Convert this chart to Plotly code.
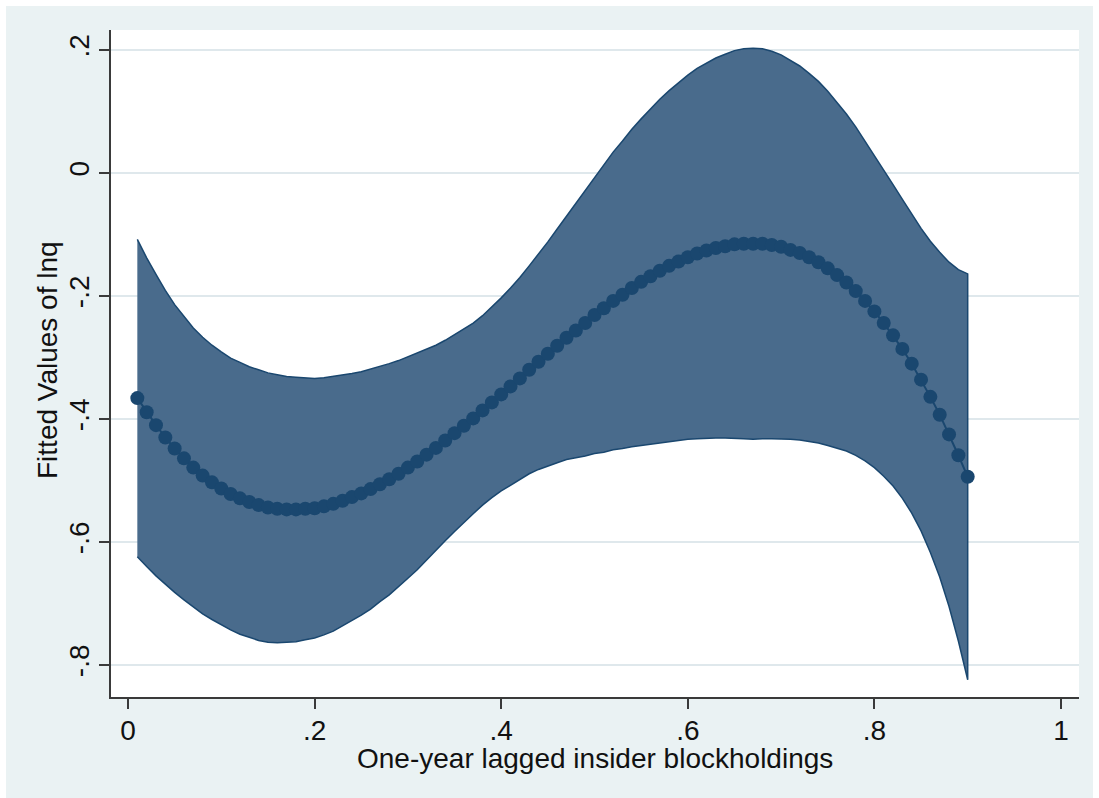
import plotly.graph_objects as go

# Lagged insider blockholdings grid (0.01 .. 0.90)
blockholdings = [round(0.01 * k, 2) for k in range(1, 91)]

# Fitted values of lnq at each grid point
fitted_lnq = [
    -0.366, -0.389, -0.410, -0.430, -0.448, -0.464, -0.479, -0.492, -0.503, -0.513,
    -0.522, -0.529, -0.535, -0.540, -0.544, -0.546, -0.547, -0.547, -0.546, -0.545,
    -0.542, -0.538, -0.533, -0.527, -0.521, -0.514, -0.506, -0.498, -0.489, -0.479,
    -0.469, -0.458, -0.447, -0.435, -0.423, -0.411, -0.399, -0.386, -0.373, -0.360,
    -0.347, -0.334, -0.320, -0.307, -0.294, -0.281, -0.268, -0.256, -0.244, -0.231,
    -0.220, -0.208, -0.198, -0.187, -0.177, -0.168, -0.159, -0.151, -0.144, -0.137,
    -0.131, -0.126, -0.122, -0.119, -0.116, -0.115, -0.115, -0.115, -0.117, -0.120,
    -0.125, -0.130, -0.137, -0.145, -0.155, -0.166, -0.178, -0.192, -0.208, -0.225,
    -0.244, -0.264, -0.286, -0.310, -0.336, -0.364, -0.393, -0.425, -0.459, -0.494,
]

# Half-width of the 95% confidence interval around the fit
ci_half_width = [
    0.258, 0.251, 0.245, 0.239, 0.234, 0.230, 0.227, 0.225, 0.223, 0.222,
    0.221, 0.221, 0.220, 0.220, 0.219, 0.218, 0.216, 0.215, 0.213, 0.211,
    0.209, 0.207, 0.204, 0.201, 0.198, 0.195, 0.191, 0.188, 0.184, 0.180,
    0.176, 0.172, 0.167, 0.163, 0.160, 0.157, 0.155, 0.154, 0.155, 0.157,
    0.160, 0.164, 0.169, 0.175, 0.182, 0.190, 0.198, 0.207, 0.216, 0.225,
    0.234, 0.242, 0.250, 0.258, 0.265, 0.272, 0.279, 0.285, 0.291, 0.296,
    0.301, 0.305, 0.309, 0.312, 0.315, 0.317, 0.318, 0.317, 0.315, 0.312,
    0.308, 0.304, 0.299, 0.294, 0.288, 0.281, 0.274, 0.267, 0.260, 0.254,
    0.249, 0.245, 0.243, 0.243, 0.246, 0.253, 0.264, 0.280, 0.302, 0.330,
]

x_ticks = [0, 0.2, 0.4, 0.6, 0.8, 1]
x_tick_labels = ["0", ".2", ".4", ".6", ".8", "1"]
y_ticks = [-0.8, -0.6, -0.4, -0.2, 0, 0.2]
y_tick_labels = ["-.8", "-.6", "-.4", "-.2", "0", ".2"]

NAVY = "#1A476F"
BAND = "#496B8C"
REGION = "#EAF2F3"
GRID = "#DFE8EC"
AXIS = "#3A3A3A"
TEXT = "#111111"
FONT = "Liberation Sans, Arial, sans-serif"
FSIZE = 28

upper = [f + h for f, h in zip(fitted_lnq, ci_half_width)]
lower = [f - h for f, h in zip(fitted_lnq, ci_half_width)]

fig = go.Figure()

# Confidence band as a closed outlined polygon
fig.add_trace(go.Scatter(
    x=blockholdings + blockholdings[::-1],
    y=upper + lower[::-1],
    mode="lines",
    fill="toself",
    fillcolor=BAND,
    line=dict(color=NAVY, width=1.5),
    hoverinfo="skip",
    showlegend=False,
))

# Fitted values: connected dots
fig.add_trace(go.Scatter(
    x=blockholdings,
    y=fitted_lnq,
    mode="lines+markers",
    line=dict(color=NAVY, width=2),
    marker=dict(color=NAVY, size=14),
    showlegend=False,
))

W, H = 1099, 798
ML, MR, MT, MB = 111, 20, 30, 101
pw, ph = W - ML - MR, H - MT - MB


def px_to_paper_x(px):
    return (px - ML) / pw


def px_to_paper_y(py):
    return (H - MB - py) / ph


axis_common = dict(
    zeroline=False,
    showline=True,
    linecolor=AXIS,
    linewidth=2,
    ticks="outside",
    ticklen=10,
    tickwidth=2,
    tickcolor=AXIS,
    tickfont=dict(size=FSIZE, family=FONT, color=TEXT),
)

fig.update_layout(
    width=W,
    height=H,
    margin=dict(l=ML, r=MR, t=MT, b=MB, pad=0),
    paper_bgcolor="white",
    plot_bgcolor="white",
    font=dict(family=FONT, size=FSIZE, color=TEXT),
    shapes=[
        # light graph region behind everything
        dict(type="rect", xref="paper", yref="paper", layer="below",
             x0=px_to_paper_x(6), x1=px_to_paper_x(1093),
             y0=px_to_paper_y(798), y1=px_to_paper_y(6),
             fillcolor=REGION, line=dict(width=0)),
        # white plot region
        dict(type="rect", xref="paper", yref="paper", layer="below",
             x0=0, x1=1, y0=0, y1=1,
             fillcolor="white", line=dict(width=0)),
    ],
    annotations=[
        dict(text="One-year lagged insider blockholdings",
             xref="paper", yref="paper",
             x=0.5, y=px_to_paper_y(758),
             xanchor="center", yanchor="middle",
             showarrow=False, font=dict(size=FSIZE, family=FONT, color=TEXT)),
        dict(text="Fitted Values of lnq",
             xref="paper", yref="paper",
             x=px_to_paper_x(48), y=px_to_paper_y(360),
             xanchor="center", yanchor="middle", textangle=-90,
             showarrow=False, font=dict(size=FSIZE, family=FONT, color=TEXT)),
    ],
    xaxis=dict(
        range=[-0.01822, 1.01929],
        tickvals=x_ticks,
        ticktext=x_tick_labels,
        showgrid=False,
        ticklabelstandoff=-3,
        **axis_common,
    ),
    yaxis=dict(
        range=[-0.85203, 0.23252],
        tickvals=y_ticks,
        ticktext=y_tick_labels,
        tickangle=-90,
        showgrid=True,
        gridcolor=GRID,
        gridwidth=2,
        ticklabelstandoff=-1,
        **axis_common,
    ),
)

fig.write_html("out.html")
